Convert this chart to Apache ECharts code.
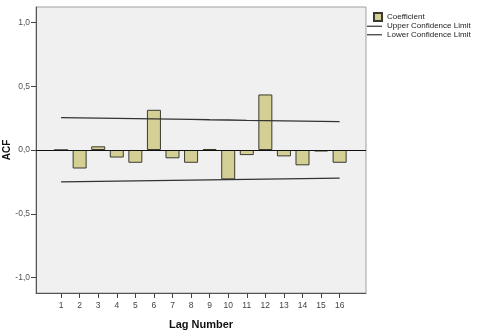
<!DOCTYPE html>
<html><head><meta charset="utf-8">
<script src="https://cdn.jsdelivr.net/npm/echarts@6/dist/echarts.min.js"></script>
<style>html,body{margin:0;padding:0;background:#fff}#c{width:486px;height:331px}</style>
</head><body><div id="c"></div>
<script>
const lags = [1,2,3,4,5,6,7,8,9,10,11,12,13,14,15,16];
const coefficient = [0.0,-0.145,0.029,-0.059,-0.10,0.315,-0.065,-0.10,0.008,-0.23,-0.04,0.435,-0.05,-0.12,-0.012,-0.10];
const upperLimit = [0.254,0.252,0.250,0.248,0.246,0.244,0.242,0.240,0.237,0.235,0.232,0.230,0.228,0.226,0.224,0.222];
const lowerLimit = [-0.250,-0.248,-0.246,-0.244,-0.242,-0.240,-0.238,-0.236,-0.234,-0.232,-0.230,-0.228,-0.226,-0.224,-0.222,-0.220];
const yTicks = [-1.0,-0.5,0.0,0.5,1.0];

const chart = echarts.init(document.getElementById('c'), null, {renderer:'canvas'});
const fmt = v => v.toFixed(1).replace('.', ',');
const lineIcon = 'path://M0,0M15,8M0,3.4L15,3.4L15,4.6L0,4.6Z';
chart.setOption({
  animation:false,
  backgroundColor:'#fff',
  textStyle:{fontFamily:'Liberation Sans, Arial, sans-serif'},
  grid:{left:36, top:7, right:120, bottom:38, outerBoundsMode:'none', containLabel:false,
        show:true, backgroundColor:'#f0f0f0', borderColor:'#a0a0a0', borderWidth:1},
  legend:{
    orient:'vertical', left:366, top:12, padding:0, itemGap:0, itemWidth:15, itemHeight:8,
    textStyle:{fontSize:8, lineHeight:8.5, color:'#222'},
    data:[
      {name:'Coefficient', icon:'path://M0,0M15,8M7,0L15,0L15,8L7,8Z'},
      {name:'Upper Confidence Limit', icon:lineIcon},
      {name:'Lower Confidence Limit', icon:lineIcon}
    ]
  },
  xAxis:{
    type:'value', min:-0.35, max:17.42,
    name:'Lag Number', nameLocation:'middle', nameGap:26, nameMoveOverlap:false,
    nameTextStyle:{fontSize:11, fontWeight:'bold', color:'#111'},
    axisLine:{show:true, onZero:false, lineStyle:{color:'#555'}},
    axisTick:{show:true, length:5, customValues:lags, lineStyle:{color:'#444'}},
    axisLabel:{fontSize:8.5, color:'#444', margin:8, customValues:lags, formatter:v=>String(v)},
    splitLine:{show:false}
  },
  yAxis:{
    type:'value', min:-1.12, max:1.12,
    name:'ACF', nameLocation:'middle', nameGap:24, nameRotate:90, nameMoveOverlap:false,
    nameTextStyle:{fontSize:10, fontWeight:'bold', color:'#111'},
    axisLine:{show:true, onZero:false, lineStyle:{color:'#555'}},
    axisTick:{show:true, length:5, customValues:yTicks, lineStyle:{color:'#444'}},
    axisLabel:{fontSize:8.5, color:'#555', margin:6, customValues:yTicks, formatter:fmt},
    splitLine:{show:false}
  },
  series:[
    {name:'Coefficient', type:'bar', barWidth:14,
     data:lags.map((l,i)=>[l, coefficient[i]]),
     itemStyle:{color:'#d4cf95', borderColor:'#3a3a30', borderWidth:1},
     markLine:{silent:true, symbol:'none', label:{show:false},
       lineStyle:{color:'#111', width:1, type:'solid'}, data:[{yAxis:0}]}},
    {name:'Upper Confidence Limit', type:'line', symbol:'none',
     data:lags.map((l,i)=>[l, upperLimit[i]]),
     lineStyle:{color:'#333', width:1.3}, itemStyle:{color:'#333'}},
    {name:'Lower Confidence Limit', type:'line', symbol:'none',
     data:lags.map((l,i)=>[l, lowerLimit[i]]),
     lineStyle:{color:'#333', width:1.3}, itemStyle:{color:'#333'}}
  ]
});
</script></body></html>
